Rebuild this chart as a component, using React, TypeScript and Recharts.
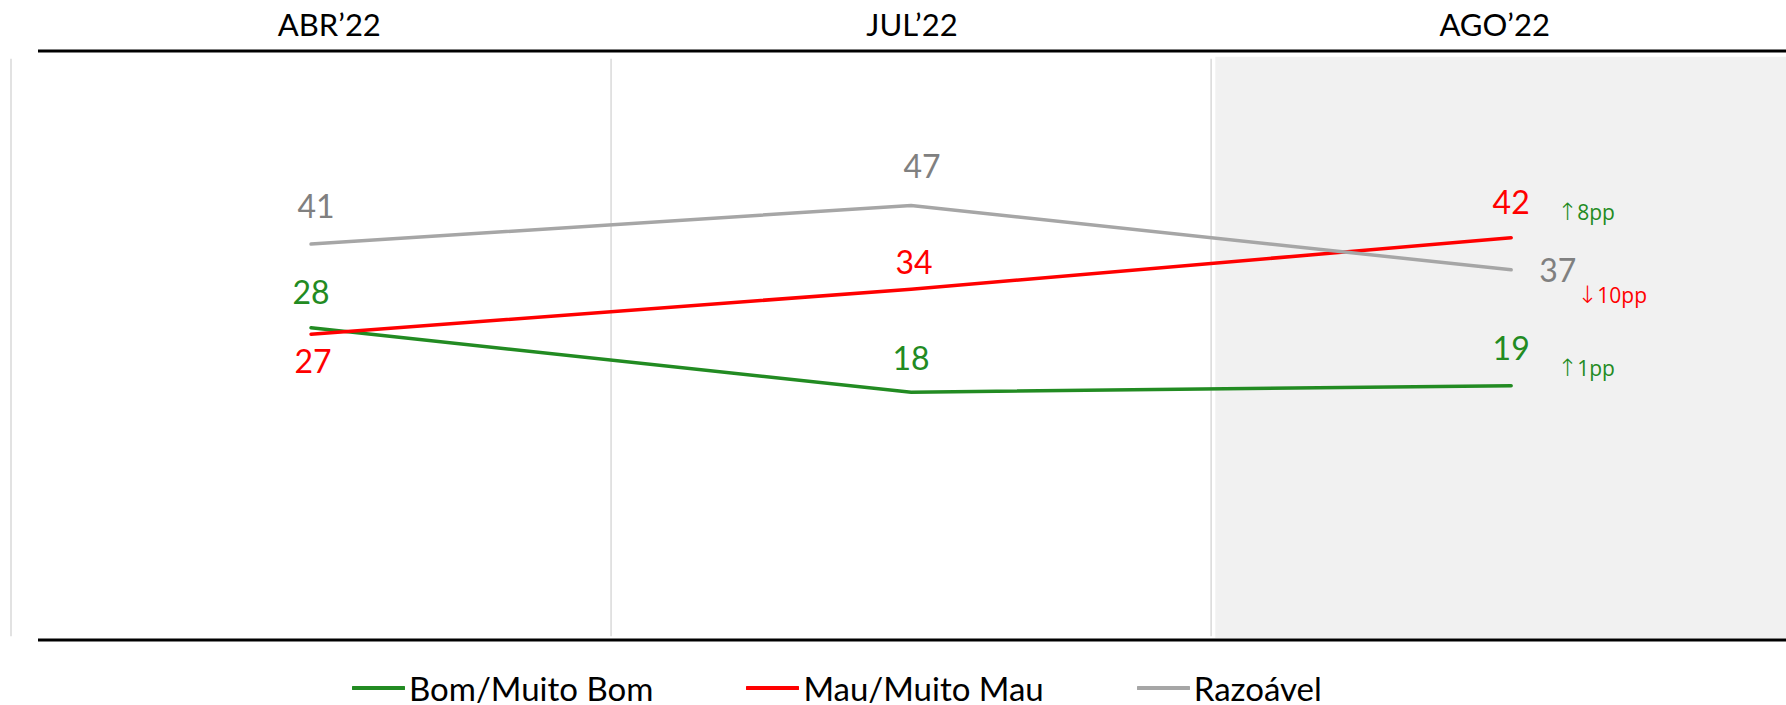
import {
  LineChart, Line, XAxis, YAxis, ReferenceArea, ReferenceLine, LabelList, Legend,
} from "recharts";

const periods = ["ABR’22", "JUL’22", "AGO’22"];
const bomMuitoBom = [28, 18, 19];
const mauMuitoMau = [27, 34, 42];
const razoavel = [41, 47, 37];
const bomDelta = "↑1pp";
const mauDelta = "↑8pp";
const razDelta = "↓10pp";

const data = periods.map((period, i) => ({
  period,
  idx: i,
  bom: bomMuitoBom[i],
  mau: mauMuitoMau[i],
  raz: razoavel[i],
}));

// layout constants
const X_DOMAIN: [number, number] = [-0.455, 2.458];
const Y_DOMAIN: [number, number] = [-20.5, 71];
const GRID_TOP = 69.8;
const GRID_BOTTOM = -19.9;

const GREEN = "#228B22";
const RED = "#FF0000";
const GREY = "#A6A6A6";
const GREY_TEXT = "#808080";
const FONT = "Lato, 'Open Sans', sans-serif";

type Place = { dx: number; dy: number; anchor?: "middle" | "start" };

const series = [
  {
    key: "bom", name: "Bom/Muito Bom", color: GREEN, text: GREEN,
    places: [{ dx: 0, dy: -36 }, { dx: 0, dy: -35 }, { dx: 0, dy: -38 }] as Place[],
    delta: bomDelta, deltaColor: GREEN, deltaPos: { dx: 46, dy: -18 },
  },
  {
    key: "mau", name: "Mau/Muito Mau", color: RED, text: RED,
    places: [{ dx: 2, dy: 26 }, { dx: 3, dy: -28 }, { dx: 0, dy: -36 }] as Place[],
    delta: mauDelta, deltaColor: GREEN, deltaPos: { dx: 46, dy: -26 },
  },
  {
    key: "raz", name: "Razoável", color: GREY, text: GREY_TEXT,
    places: [{ dx: 5, dy: -39 }, { dx: 11, dy: -40 }, { dx: 28, dy: 0, anchor: "start" }] as Place[],
    delta: razDelta, deltaColor: RED, deltaPos: { dx: 66, dy: 25 },
  },
];

function makeLabel(s: (typeof series)[number]) {
  return (props: any) => {
    const { x, y, value, index } = props;
    const p = s.places[index] || { dx: 0, dy: -36 };
    const last = index === periods.length - 1;
    return (
      <g key={`${s.key}-${index}`}>
        <text x={x + p.dx} y={y + p.dy} fill={s.text} fontSize={32} fontFamily={FONT}
          textAnchor={p.anchor || "middle"} dominantBaseline="central">
          {value}
        </text>
        {last && (
          <text x={x + s.deltaPos.dx} y={y + s.deltaPos.dy} fill={s.deltaColor} fontSize={21}
            fontFamily="'Open Sans', sans-serif" textAnchor="start" dominantBaseline="central">
            <tspan fontFamily="'DejaVu Sans'" fontSize={24} fontWeight={300}>{s.delta.slice(0, 1)}</tspan>
            <tspan>{s.delta.slice(1)}</tspan>
          </text>
        )}
      </g>
    );
  };
}

function LegendContent({ payload }: any) {
  return (
    <div style={{ display: "flex", alignItems: "center", fontFamily: FONT, fontSize: 33, color: "#000" }}>
      {(payload || []).map((item: any, i: number) => (
        <div key={i} style={{ display: "flex", alignItems: "center", marginRight: 93 }}>
          <svg width={53} height={10}>
            <line x1={1} y1={5} x2={52} y2={5} stroke={item.color} strokeWidth={4} strokeLinecap="round" />
          </svg>
          <span style={{ marginLeft: 4 }}>{item.value}</span>
        </div>
      ))}
    </div>
  );
}

export default function App() {
  return (
    <div style={{ position: "absolute", top: 0, left: 0, width: 1786, height: 705, background: "#fff" }}>
      <LineChart width={1786} height={705} data={data} margin={{ top: 0, right: 0, left: 38, bottom: 0 }}>
        <XAxis xAxisId="hdr" dataKey="period" type="category" scale="band" orientation="top" height={51}
          axisLine={{ stroke: "#000", strokeWidth: 3 }} tickLine={false} tickMargin={9}
          tick={{ fontSize: 31, fontFamily: FONT, fill: "#000" }} interval={0} />
        <XAxis xAxisId="pts" dataKey="idx" type="number" domain={X_DOMAIN} orientation="bottom" height={65}
          axisLine={{ stroke: "#000", strokeWidth: 3 }} tick={false} tickLine={false} allowDataOverflow />
        <YAxis hide domain={Y_DOMAIN} allowDataOverflow />

        <ReferenceArea xAxisId="pts" x1={1.507} x2={X_DOMAIN[1]} y1={-20.2} y2={70.1}
          fill="#F1F1F1" fillOpacity={1} stroke="none" ifOverflow="visible" />
        {[-0.5, 0.5, 1.5].map((bx) => (
          <ReferenceLine key={bx} xAxisId="pts" ifOverflow="visible" stroke="#D9D9D9" strokeWidth={1.5}
            segment={[{ x: bx, y: GRID_BOTTOM }, { x: bx, y: GRID_TOP }]} />
        ))}

        {series.map((s) => (
          <Line key={s.key} xAxisId="pts" dataKey={s.key} name={s.name} type="linear" stroke={s.color}
            strokeWidth={3.5} strokeLinecap="round" dot={false} activeDot={false} isAnimationActive={false}>
            <LabelList dataKey={s.key} content={makeLabel(s)} />
          </Line>
        ))}

        <Legend verticalAlign="middle" align="center" layout="horizontal" content={<LegendContent />}
          wrapperStyle={{ top: 668, left: 352, width: 1300, height: 44 }} />
      </LineChart>
    </div>
  );
}
